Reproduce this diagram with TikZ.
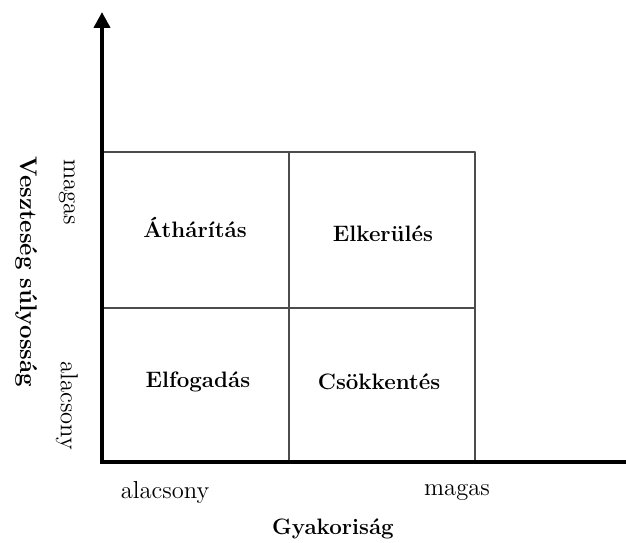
\documentclass[tikz,border=0pt]{standalone}
\usepackage{amsmath}
\usepackage{tkz-euclide}
\usetikzlibrary{arrows.meta}

\begin{document}
\begin{tikzpicture}[lab/.style={font=\fontsize{14}{16}\selectfont},
  cell/.style={font=\fontsize{12.7}{15}\selectfont\bfseries}]
\useasboundingbox (0,0) rectangle (12.52,10.84);
\tkzDefPoint(2.04,1.60){O}
\tkzDefPoint(2.04,10.60){T}
\tkzDefPoint(12.52,1.60){X}
\tkzDefPoint(5.78,1.60){b_1}
\tkzDefPoint(9.50,1.60){b_2}
\tkzDefPoint(2.04,4.68){l_1}
\tkzDefPoint(2.04,7.80){l_2}
\tkzDefPoint(5.78,7.80){t_1}
\tkzDefPoint(9.50,7.80){t_2}
\tkzDefPoint(9.50,4.68){r_1}
\tkzDrawSegments[gray!60!black, line width=0.6pt](l_2,t_2 t_2,b_2 t_1,b_1 l_1,r_1)
\tkzDrawSegment[line width=2.3pt, line cap=rect, -{Triangle[length=9pt,width=9pt]}](O,T)
\tkzDrawSegment[line width=2.3pt, line cap=rect](O,X)
\node[cell] (athar) at (3.90,6.30) {Áthárítás};
\node[cell] (elker) at (7.66,6.16) {Elkerülés};
\node[cell] (elfog) at (3.96,3.20) {Elfogadás};
\node[cell] (csokk) at (7.58,3.20) {Csökkentés};
\node[lab] (xlow) at (3.30,1.00) {alacsony};
\node[lab] (xhigh) at (9.14,1.00) {magas};
\node[cell] (xtitle) at (6.66,0.26) {Gyakoriság};
\node[lab, rotate=-90] (yhigh) at (1.34,7.00) {magas};
\node[lab, rotate=-90] (ylow) at (1.34,2.72) {alacsony};
\node[cell, font=\fontsize{13.7}{16}\selectfont\bfseries, rotate=-90] (ytitle) at (0.54,5.40) {Veszteség súlyosság};
\end{tikzpicture}
\end{document}
